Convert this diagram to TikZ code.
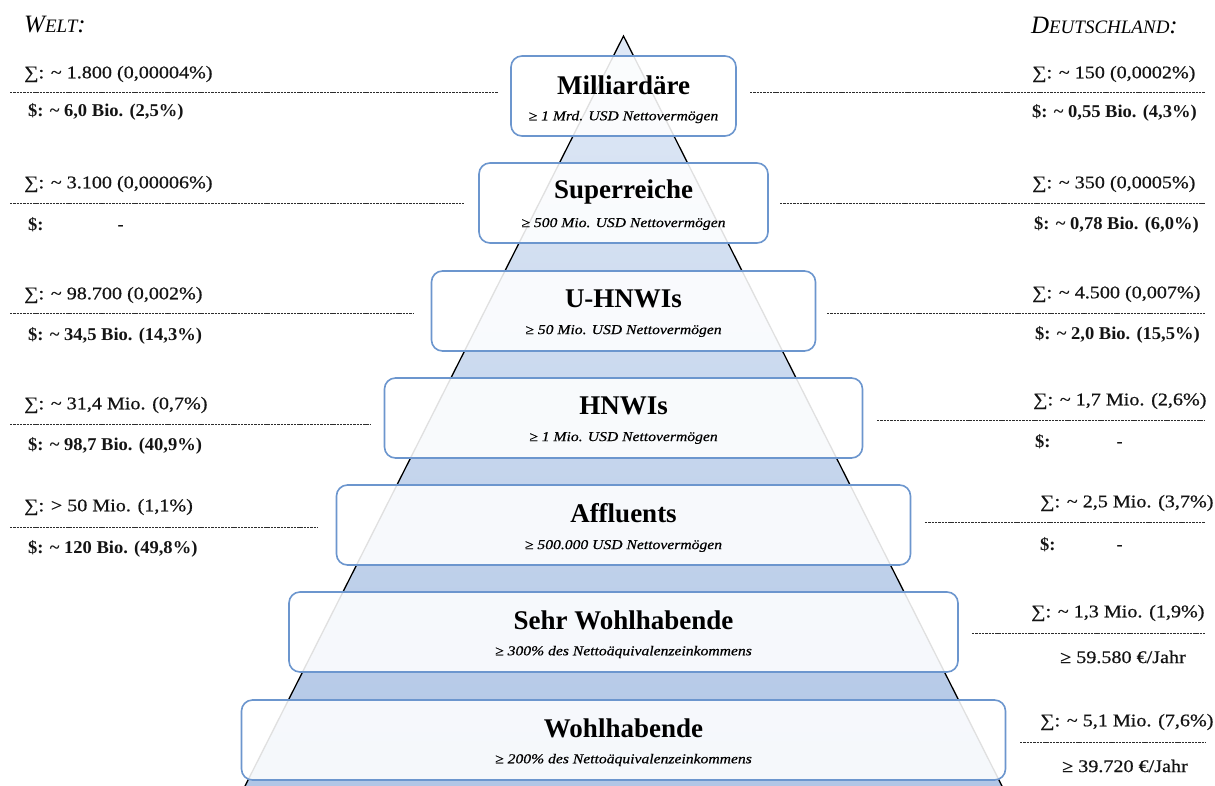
\documentclass[tikz,border=0pt]{standalone}
\usepackage{fontspec}
\setmainfont{Liberation Serif}
\newfontfamily\sidefont{Liberation Serif}[FakeStretch=1.13,FakeBold=0.6]
\newfontfamily\boldside{Liberation Serif}[FakeStretch=1.03]
\newfontfamily\subfont{Liberation Serif}[FakeStretch=1.15,FakeBold=0.5]
\definecolor{boxblue}{RGB}{108,150,206}
\definecolor{pyrtop}{RGB}{224,233,246}
\definecolor{pyrbot}{RGB}{170,193,227}
\definecolor{sepgray}{RGB}{45,45,45}
\definecolor{txt}{RGB}{20,20,20}
\tikzset{
  tierbox/.style={draw=boxblue, line width=1.6pt, rounded corners=11pt, fill=white, fill opacity=0.88, minimum height=80pt, inner sep=0pt},
  tiertitle/.style={font=\fontsize{27}{30}\selectfont\bfseries, inner sep=0pt},
  tiersub/.style={font=\subfont\fontsize{13.6}{15}\selectfont\itshape, inner sep=0pt},
  numtxt/.style={font=\sidefont\fontsize{17.8}{20}\selectfont, text=txt, anchor=west, inner sep=0pt},
  dollartxt/.style={font=\boldside\fontsize{18}{20}\selectfont\bfseries, text=txt, anchor=west, inner sep=0pt},
  sepline/.style={draw=sepgray, line width=0.8pt, dash pattern=on 2.4pt off 0.9pt},
  headtxt/.style={font=\fontsize{25}{28}\selectfont\itshape, inner sep=0pt}
}
\begin{document}
\begin{tikzpicture}[x=1pt,y=-1pt]
\useasboundingbox (0,0) rectangle (1215,785);
\fill[white] (0,0) rectangle (1215,785);
\begin{scope}
\clip (0,0) rectangle (1215,785);
% pyramid
\shade[top color=pyrtop, bottom color=pyrbot] (623.5,36) -- (1059.5,900) -- (187.5,900) -- cycle;
\draw[black, line width=1.3pt, line join=miter] (187.5,900) -- (623.5,36) -- (1059.5,900);
% boxes
\node[tierbox, minimum width=225pt] (b1) at (623.5,96) {};
\node[tierbox, minimum width=289pt] (b2) at (623.5,203) {};
\node[tierbox, minimum width=384pt] (b3) at (623.5,311) {};
\node[tierbox, minimum width=478pt] (b4) at (623.5,418) {};
\node[tierbox, minimum width=574pt] (b5) at (623.5,525) {};
\node[tierbox, minimum width=669pt] (b6) at (623.5,632) {};
\node[tierbox, minimum width=764pt] (b7) at (623.5,740) {};
\end{scope}
% titles
\node[tiertitle] (t1) at (623.5,85) {Milliardäre};
\node[tiersub] (s1) at (623.5,117) {≥ 1 Mrd. USD Nettovermögen};
\node[tiertitle] (t2) at (623.5,192) {Superreiche};
\node[tiersub] (s2) at (623.5,224) {≥ 500 Mio. USD Nettovermögen};
\node[tiertitle] (t3) at (623.5,299) {U-HNWIs};
\node[tiersub] (s3) at (623.5,331) {≥ 50 Mio. USD Nettovermögen};
\node[tiertitle] (t4) at (623.5,406) {HNWIs};
\node[tiersub] (s4) at (623.5,438) {≥ 1 Mio. USD Nettovermögen};
\node[tiertitle] (t5) at (623.5,513) {Affluents};
\node[tiersub] (s5) at (623.5,546) {≥ 500.000 USD Nettovermögen};
\node[tiertitle] (t6) at (623.5,620) {Sehr Wohlhabende};
\node[tiersub] (s6) at (623.5,652) {≥ 300\% des Nettoäquivalenzeinkommens};
\node[tiertitle] (t7) at (623.5,728) {Wohlhabende};
\node[tiersub] (s7) at (623.5,760) {≥ 200\% des Nettoäquivalenzeinkommens};
% headers
\node[headtxt, anchor=west] (hw) at (24,25) {W\fontsize{19}{22}\selectfont ELT\fontsize{25}{28}\selectfont:};
\node[headtxt, anchor=east] (hd) at (1178,25) {D\fontsize{19}{22}\selectfont EUTSCHLAND\fontsize{25}{28}\selectfont:};
% left: world
\draw[sepline] (10,92) -- (498,92);
\node[numtxt] (wn1) at (24,74) {∑: \textasciitilde{} 1.800 (0,00004\%)};
\node[dollartxt] (wd1) at (28,112) {\$: \textasciitilde{} 6,0 Bio. (2,5\%)};
\draw[sepline] (10,203) -- (464,203);
\node[numtxt] (wn2) at (24,184) {∑: \textasciitilde{} 3.100 (0,00006\%)};
\node[dollartxt] (wd2) at (28,225) {\$:\hspace{74pt}-};
\draw[sepline] (10,313) -- (414,313);
\node[numtxt] (wn3) at (24,295) {∑: \textasciitilde{} 98.700 (0,002\%)};
\node[dollartxt] (wd3) at (28,336) {\$: \textasciitilde{} 34,5 Bio. (14,3\%)};
\draw[sepline] (10,424) -- (371,424);
\node[numtxt] (wn4) at (24,405) {∑: \textasciitilde{} 31,4 Mio. (0,7\%)};
\node[dollartxt] (wd4) at (28,446) {\$: \textasciitilde{} 98,7 Bio. (40,9\%)};
\draw[sepline] (10,527) -- (318,527);
\node[numtxt] (wn5) at (24,507) {∑: > 50 Mio. (1,1\%)};
\node[dollartxt] (wd5) at (28,549) {\$: \textasciitilde{} 120 Bio. (49,8\%)};
% right: Germany
\draw[sepline] (750,92) -- (1205,92);
\node[numtxt] (dn1) at (1032,74) {∑: \textasciitilde{} 150 (0,0002\%)};
\node[dollartxt] (dd1) at (1032,113) {\$: \textasciitilde{} 0,55 Bio. (4,3\%)};
\draw[sepline] (780,203) -- (1205,203);
\node[numtxt] (dn2) at (1032,184) {∑: \textasciitilde{} 350 (0,0005\%)};
\node[dollartxt] (dd2) at (1034,225) {\$: \textasciitilde{} 0,78 Bio. (6,0\%)};
\draw[sepline] (827,313) -- (1205,313);
\node[numtxt] (dn3) at (1032,294) {∑: \textasciitilde{} 4.500 (0,007\%)};
\node[dollartxt] (dd3) at (1035,335) {\$: \textasciitilde{} 2,0 Bio. (15,5\%)};
\draw[sepline] (877,420) -- (1205,420);
\node[numtxt] (dn4) at (1033,401) {∑: \textasciitilde{} 1,7 Mio. (2,6\%)};
\node[dollartxt] (dd4) at (1035,442) {\$:\hspace{66pt}-};
\draw[sepline] (925,522) -- (1205,522);
\node[numtxt] (dn5) at (1040,503) {∑: \textasciitilde{} 2,5 Mio. (3,7\%)};
\node[dollartxt] (dd5) at (1040,545) {\$:\hspace{61pt}-};
\draw[sepline] (972,633) -- (1205,633);
\node[numtxt] (dn6) at (1031,613) {∑: \textasciitilde{} 1,3 Mio. (1,9\%)};
\node[numtxt] (de6) at (1060,657) {≥ 59.580 €/Jahr};
\draw[sepline] (1020,742) -- (1205,742);
\node[numtxt] (dn7) at (1040,722) {∑: \textasciitilde{} 5,1 Mio. (7,6\%)};
\node[numtxt] (de7) at (1062,766) {≥ 39.720 €/Jahr};
\end{tikzpicture}
\end{document}
